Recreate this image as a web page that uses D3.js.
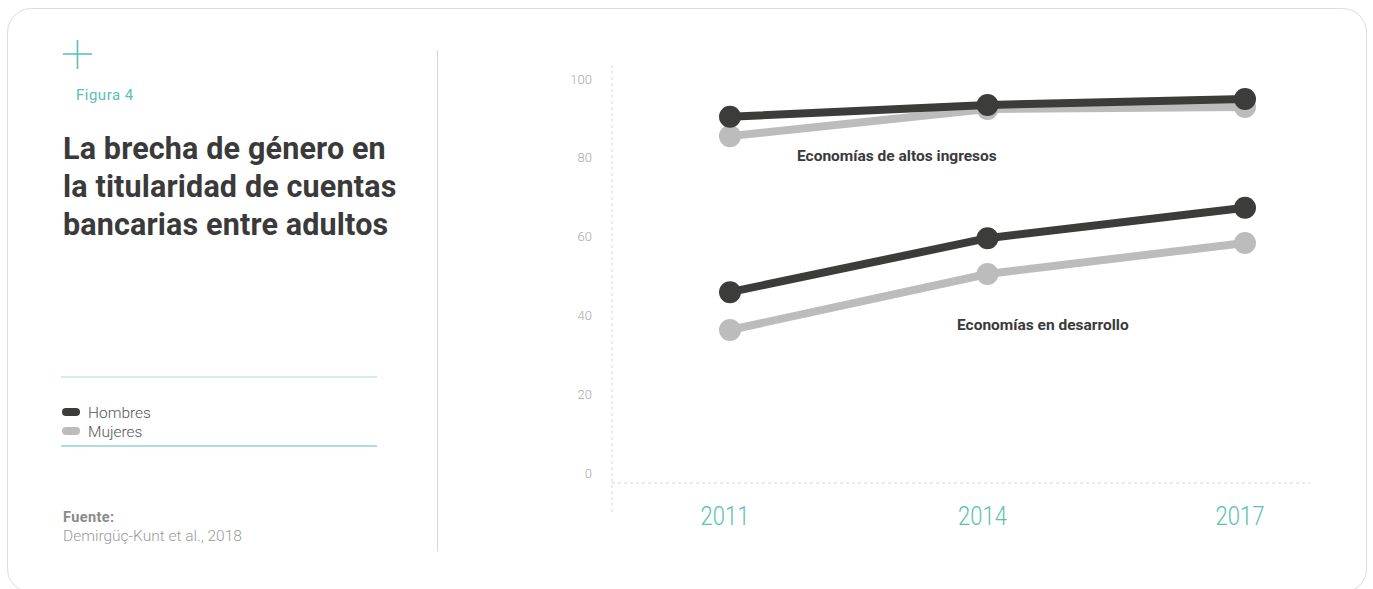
<!DOCTYPE html>
<html>
<head>
<meta charset="utf-8">
<script src="https://cdn.jsdelivr.net/npm/d3@7"></script>
<style>
  body { margin: 0; background: #fff; }
  svg text { font-family: "Roboto", "Noto Sans", sans-serif; }
</style>
</head>
<body>
<div id="chart"></div>
<script>
// --------------------------------------
//  Data
// --------------------------------------

const years = ["2011", "2014", "2017"];
const yTicks = [0, 20, 40, 60, 80, 100];

const highMen = [90.4, 93.4, 94.9];
const highWomen = [85.5, 92.4, 92.9];
const devMen = [45.9, 59.6, 67.3];
const devWomen = [36.3, 50.5, 58.4];

const legendLabels = ["Hombres", "Mujeres"];
const titleLines = ["La brecha de género en", "la titularidad de cuentas", "bancarias entre adultos"];

// --------------------------------------
//  Canvas
// --------------------------------------

const width = 1373;
const height = 589;
const teal = "#5bbfb1";
const dark = "#3c3c3b";
const light = "#bcbcbc";

const svg = d3.select("#chart")
  .append("svg")
    .attr("width", width)
    .attr("height", height);

svg.append("rect")
  .attr("x", 7.5).attr("y", 8.5)
  .attr("width", 1359).attr("height", 584)
  .attr("rx", 24)
  .attr("fill", "#fff")
  .attr("stroke", "#dcdcdc");

// --------------------------------------
//  Left panel
// --------------------------------------

const left = svg.append("g");

left.append("path")
  .attr("d", "M63,54H92M77.5,40V69")
  .attr("stroke", teal)
  .attr("stroke-width", 1.6)
  .attr("fill", "none");

left.append("text")
  .attr("x", 76).attr("y", 100)
  .attr("fill", teal)
  .style("font-size", "15px")
  .style("letter-spacing", "0.5px")
  .text("Figura 4");

left.selectAll(".title")
  .data(titleLines)
  .join("text")
    .attr("class", "title")
    .attr("x", 63)
    .attr("y", (d, i) => 159 + i * 38)
    .attr("fill", "#3a3a3a")
    .style("font-size", "30.5px")
    .style("font-weight", 700)
    .style("letter-spacing", "0.15px")
    .text(d => d);

left.append("line")
  .attr("x1", 61).attr("x2", 377)
  .attr("y1", 377).attr("y2", 377)
  .attr("stroke", "#a3ddd4").attr("stroke-width", 1.2);

left.append("line")
  .attr("x1", 61).attr("x2", 377)
  .attr("y1", 446).attr("y2", 446)
  .attr("stroke", teal).attr("stroke-width", 1.2);

const legend = left.selectAll(".legend")
  .data(legendLabels)
  .join("g")
    .attr("class", "legend")
    .attr("transform", (d, i) => `translate(62, ${412 + i * 19})`);

legend.append("line")
  .attr("x1", 4).attr("x2", 14)
  .attr("stroke", (d, i) => i === 0 ? dark : light)
  .attr("stroke-width", 8)
  .attr("stroke-linecap", "round");

legend.append("text")
  .attr("x", 26).attr("y", 5.5)
  .attr("fill", "#555")
  .style("font-size", "15.5px")
  .style("font-weight", 300)
  .text(d => d);

left.append("text")
  .attr("x", 63).attr("y", 522)
  .attr("fill", "#8a8a8a")
  .style("font-size", "14.5px")
  .style("font-weight", 700)
  .style("letter-spacing", "0.4px")
  .text("Fuente:");

left.append("text")
  .attr("x", 63).attr("y", 541)
  .attr("fill", "#9a9a9a")
  .style("font-size", "15.5px")
  .style("font-weight", 300)
  .text("Demirgüç-Kunt et al., 2018");

svg.append("line")
  .attr("x1", 437.5).attr("x2", 437.5)
  .attr("y1", 50).attr("y2", 551)
  .attr("stroke", "#d6d6d6");

// --------------------------------------
//  Scales
// --------------------------------------

const x = d3.scalePoint()
  .domain(years)
  .range([730, 1245]);

const y = d3.scaleLinear()
  .domain([0, 100])
  .range([473, 79]);

// --------------------------------------
//  Axes
// --------------------------------------

const chart = svg.append("g");

chart.append("line")
  .attr("x1", 612).attr("x2", 612)
  .attr("y1", 65).attr("y2", 512)
  .attr("stroke", "#d8d8d8")
  .attr("stroke-dasharray", "3,3");

chart.append("line")
  .attr("x1", 612).attr("x2", 1310)
  .attr("y1", y(0) + 10).attr("y2", y(0) + 10)
  .attr("stroke", "#d8d8d8")
  .attr("stroke-dasharray", "3,3");

chart.selectAll(".ytick")
  .data(yTicks)
  .join("text")
    .attr("class", "ytick")
    .attr("x", 592)
    .attr("y", d => y(d))
    .attr("dy", "0.35em")
    .attr("text-anchor", "end")
    .attr("fill", "#a8a8a8")
    .style("font-size", "13px")
    .style("font-weight", 300)
    .text(d => d);

// condensed look for the year labels
chart.selectAll(".xtick")
  .data(years)
  .join("text")
    .attr("class", "xtick")
    .attr("transform", d => `translate(${x(d) - 5}, 525) scale(0.88, 1)`)
    .attr("text-anchor", "middle")
    .attr("fill", teal)
    .style("font-size", "25px")
    .style("font-weight", 300)
    .text(d => d);

// --------------------------------------
//  Lines
// --------------------------------------

const series = [
  {values: highWomen, color: light},
  {values: devWomen, color: light},
  {values: highMen, color: dark},
  {values: devMen, color: dark}
];

const line = d3.line()
  .x((d, i) => x(years[i]))
  .y(d => y(d));

series.forEach(s => {
  const g = chart.append("g");
  g.append("path")
    .attr("d", line(s.values))
    .attr("fill", "none")
    .attr("stroke", s.color)
    .attr("stroke-width", 8);
  g.selectAll("circle")
    .data(s.values)
    .join("circle")
      .attr("cx", (d, i) => x(years[i]))
      .attr("cy", d => y(d))
      .attr("r", 11)
      .attr("fill", s.color);
});

// --------------------------------------
//  Labels
// --------------------------------------

chart.append("text")
  .attr("x", 797).attr("y", 161)
  .attr("fill", "#3a3a3a")
  .style("font-size", "15.5px")
  .style("font-weight", 700)
  .text("Economías de altos ingresos");

chart.append("text")
  .attr("x", 957).attr("y", 330)
  .attr("fill", "#3a3a3a")
  .style("font-size", "15.5px")
  .style("font-weight", 700)
  .text("Economías en desarrollo");
</script>
</body>
</html>
